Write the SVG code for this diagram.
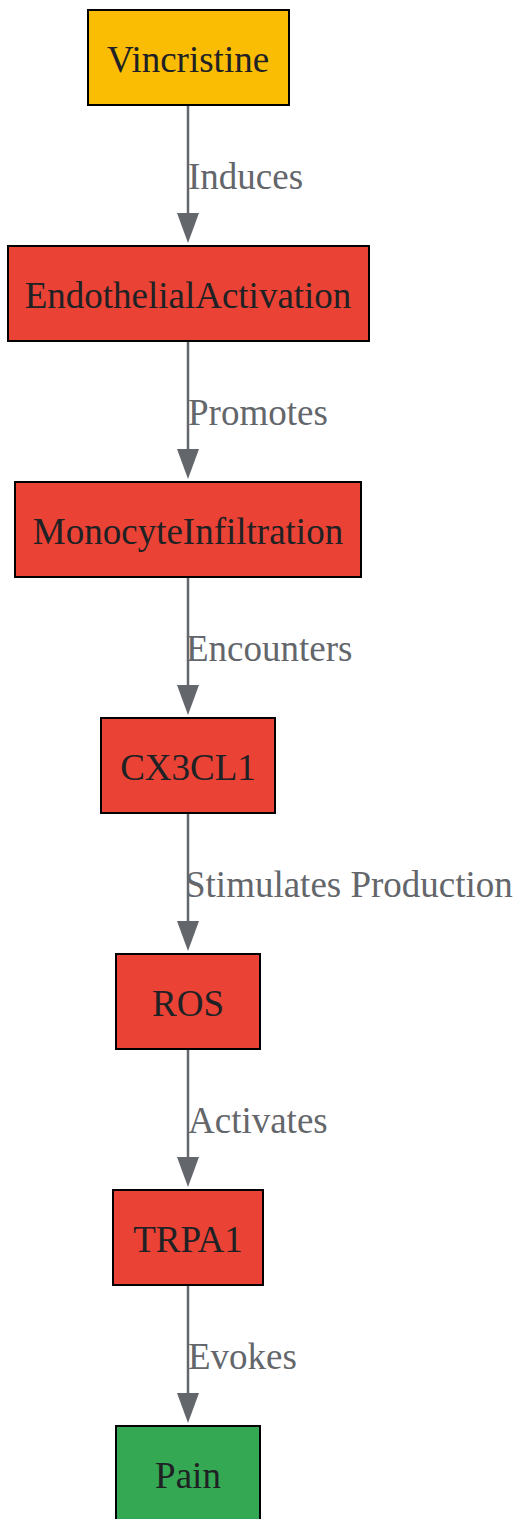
<svg xmlns="http://www.w3.org/2000/svg" width="518" height="1519" viewBox="0 0 518 1519">
<style>
.n rect{stroke:#000;stroke-width:2}
.n text{font-family:"Liberation Serif",serif;font-size:37px;fill:#202124;text-anchor:middle}
.y{fill:#fbbc04}.r{fill:#ea4335}.g{fill:#34a853}
.e line{stroke:#63666a;stroke-width:2.5}
.e path{fill:#63666a}
.e text{font-family:"Liberation Serif",serif;font-size:37px;fill:#63666a}
</style>
<rect width="518" height="1519" fill="#fff"/>
<g class="e" id="edges">
<line x1="188" y1="105" x2="188" y2="216"/><path d="M177,213 L199,213 L188,243 Z"/><text x="188" y="189">Induces</text>
<line x1="188" y1="341" x2="188" y2="452"/><path d="M177,449 L199,449 L188,479 Z"/><text x="188" y="425">Promotes</text>
<line x1="188" y1="577" x2="188" y2="688"/><path d="M177,685 L199,685 L188,715 Z"/><text x="186" y="661">Encounters</text>
<line x1="188" y1="813" x2="188" y2="924"/><path d="M177,921 L199,921 L188,951 Z"/><text x="185" y="897">Stimulates Production</text>
<line x1="188" y1="1049" x2="188" y2="1160"/><path d="M177,1157 L199,1157 L188,1187 Z"/><text x="188" y="1133">Activates</text>
<line x1="188" y1="1285" x2="188" y2="1396"/><path d="M177,1393 L199,1393 L188,1423 Z"/><text x="188" y="1369">Evokes</text>
</g>
<g class="n" id="Vincristine"><rect class="y" x="88" y="10" width="201" height="95"/><text x="188" y="72">Vincristine</text></g>
<g class="n" id="EndothelialActivation"><rect class="r" x="8" y="246" width="361" height="95"/><text x="188" y="308">EndothelialActivation</text></g>
<g class="n" id="MonocyteInfiltration"><rect class="r" x="15" y="482" width="346" height="95"/><text x="188" y="544">MonocyteInfiltration</text></g>
<g class="n" id="CX3CL1"><rect class="r" x="101" y="718" width="174" height="95"/><text x="188" y="780">CX3CL1</text></g>
<g class="n" id="ROS"><rect class="r" x="116" y="954" width="144" height="95"/><text x="188" y="1016">ROS</text></g>
<g class="n" id="TRPA1"><rect class="r" x="113" y="1190" width="150" height="95"/><text x="188" y="1252">TRPA1</text></g>
<g class="n" id="Pain"><rect class="g" x="116" y="1426" width="144" height="95"/><text x="188" y="1488">Pain</text></g>
</svg>
